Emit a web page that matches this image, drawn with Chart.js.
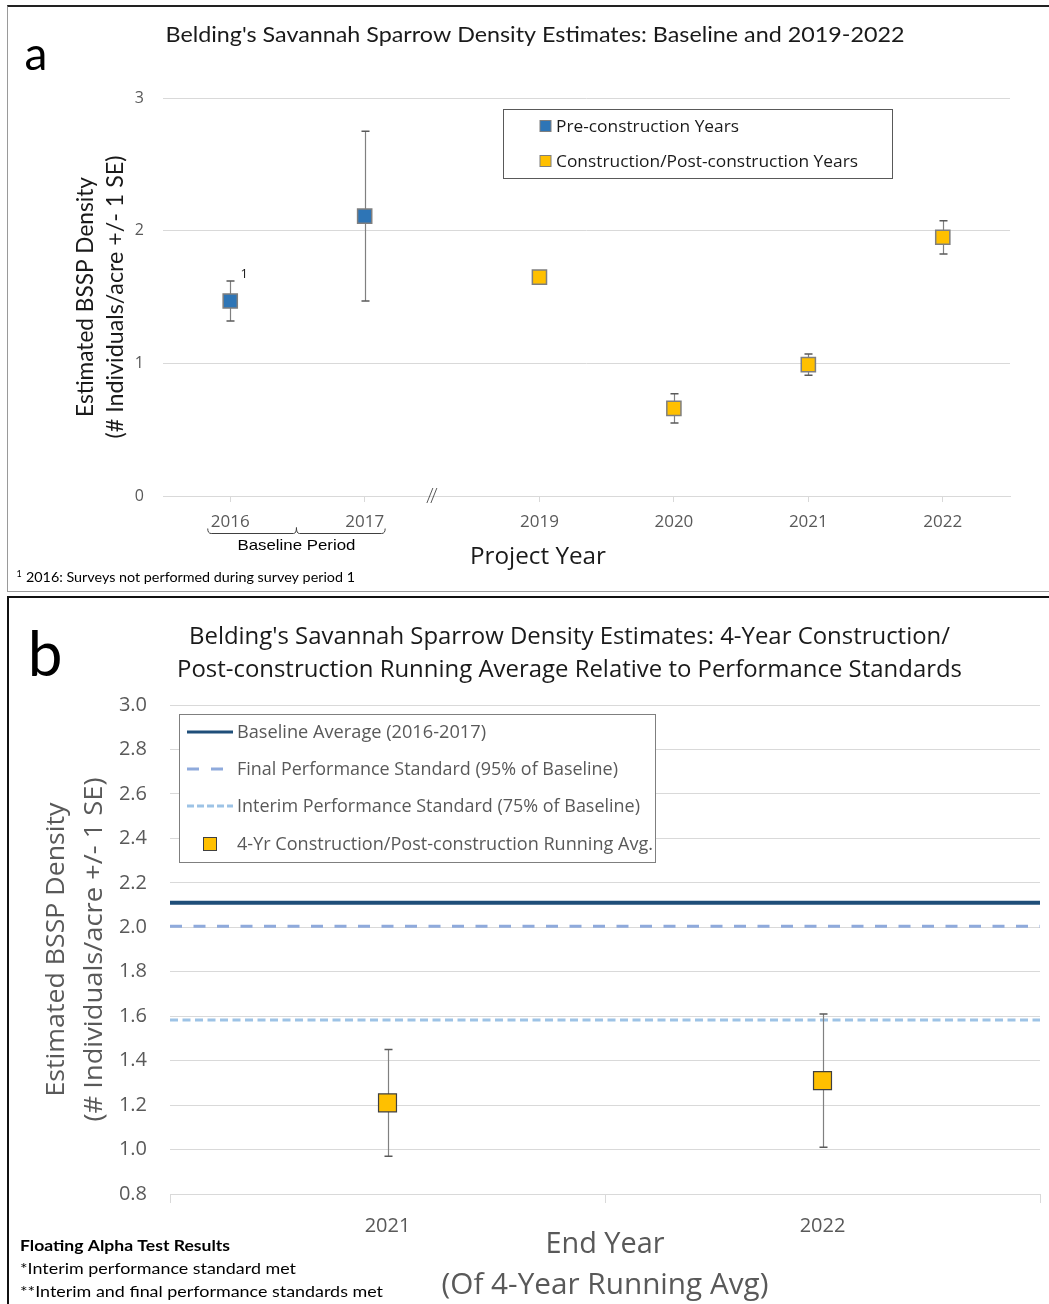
<!DOCTYPE html>
<html>
<head>
<meta charset="utf-8">
<title>Belding's Savannah Sparrow Density Estimates</title>
<script src="https://cdn.jsdelivr.net/npm/chart.js@4.4.1/dist/chart.umd.min.js"></script>
<style>
  html, body { margin: 0; padding: 0; background: #fff; }
  body { width: 1049px; height: 1304px; position: relative; overflow: hidden; }
  .frame { position: absolute; box-sizing: border-box; }
  #frameA { left: 7px; top: 5px; width: 1042px; height: 587px;
            border-top: 2px solid #222; border-left: 1px solid #9a9a9a; border-bottom: 1px solid #9a9a9a; }
  #frameB { left: 7px; top: 596px; width: 1042px; height: 708px;
            border-top: 2px solid #111; border-left: 2px solid #111; }
  canvas { position: absolute; left: 0; }
  #chartA { top: 0; }
  #chartB { top: 597px; }
</style>
</head>
<body>
<div class="frame" id="frameA"></div>
<div class="frame" id="frameB"></div>
<canvas id="chartA" width="1049" height="590"></canvas>
<canvas id="chartB" width="1049" height="707"></canvas>
<script>
// ---- Panel a: yearly density estimates (individuals/acre, +/- 1 SE) ----
const preYears = ['2016', '2017'];
const preDensity = [1.47, 2.11];
const preSE = [0.15, 0.64];

const postYears = ['2019', '2020', '2021', '2022'];
const postDensity = [1.65, 0.66, 0.99, 1.95];
const postSE = [0, 0.11, 0.08, 0.125];

const yearLabelsA = preYears.concat(postYears);
const yTicksA = [0, 1, 2, 3];

// ---- Panel b: 4-year construction/post-construction running average ----
const endYears = ['2021', '2022'];
const runningAvg = [1.21, 1.31];
const runningSE = [0.24, 0.30];
const baselineAvg = 2.11;
const finalStandard = 0.95 * baselineAvg;   // 95% of baseline
const interimStandard = 0.75 * baselineAvg; // 75% of baseline
const yTicksB = [0.8, 1.0, 1.2, 1.4, 1.6, 1.8, 2.0, 2.2, 2.4, 2.6, 2.8, 3.0];

// Layout constants for the broken x axis of panel a
const BREAK_GAP = 0.3;
const slotOf = i => i + (i >= preYears.length ? BREAK_GAP : 0);
const slotsA = yearLabelsA.map((_, i) => slotOf(i));

const BLUE = '#2E75B6', GOLD = '#FFC000', GRID = '#d9d9d9', AXIS_TXT = '#595959';
const SEGOE = '"Open Sans", "Noto Sans", sans-serif';
const CALIBRI = 'Lato, "Open Sans", sans-serif';

// Draws a string, optionally stretched to a given width and rotated.
function drawText(ctx, s, x, y, o = {}) {
  ctx.save();
  ctx.font = o.font;
  ctx.fillStyle = o.color || '#262626';
  ctx.textBaseline = o.baseline || 'middle';
  ctx.textAlign = 'left';
  const natural = ctx.measureText(s).width;
  const sx = o.width ? o.width / natural : 1;
  ctx.translate(x, y);
  if (o.rotate) ctx.rotate(o.rotate);
  const w = natural * sx;
  const dx = o.align === 'left' ? 0 : o.align === 'right' ? -w : -w / 2;
  ctx.translate(dx, 0);
  ctx.scale(sx, 1);
  ctx.fillText(s, 0, 0);
  ctx.restore();
}

// Keeps a scale's box at a fixed size with no extra edge padding
const fixBox = (prop, size) => s => { s[prop] = size; s.paddingLeft = 0; s.paddingRight = 0; };

// Vertical +/- SE whiskers for every point that carries an errorBars array
const errorBarsPlugin = {
  id: 'errorBars',
  beforeDatasetsDraw(chart, args, opts) {
    const { ctx } = chart;
    const yScale = chart.scales.y;
    chart.data.datasets.forEach((ds, di) => {
      if (!ds.errorBars) return;
      const meta = chart.getDatasetMeta(di);
      meta.data.forEach((pt, i) => {
        const v = typeof ds.data[i] === 'object' ? ds.data[i].y : ds.data[i];
        const se = ds.errorBars[i];
        if (!se) return;
        const yTop = yScale.getPixelForValue(v + se);
        const yBot = yScale.getPixelForValue(v - se);
        const x = Math.round(pt.x) + 0.5;
        ctx.save();
        ctx.strokeStyle = '#808080';
        ctx.lineWidth = 1.2;
        ctx.beginPath();
        ctx.moveTo(x, yTop); ctx.lineTo(x, yBot);
        ctx.stroke();
        ctx.strokeStyle = '#595959';
        ctx.lineWidth = 1.5;
        const c = opts.cap || 4;
        ctx.beginPath();
        ctx.moveTo(x - c, yTop); ctx.lineTo(x + c, yTop);
        ctx.moveTo(x - c, yBot); ctx.lineTo(x + c, yBot);
        ctx.stroke();
        ctx.restore();
      });
    });
  }
};

// ---- Panel a decorations: title, axis titles, break mark, bracket, legend, notes ----
const panelAExtras = {
  id: 'panelAExtras',
  afterDraw(chart) {
    const { ctx, scales: { x, y } } = chart;

    drawText(ctx, "Belding's Savannah Sparrow Density Estimates: Baseline and 2019-2022", 535, 35,
      { font: '22px ' + CALIBRI, color: '#1a1a1a', width: 739 });
    drawText(ctx, 'a', 36, 70, { font: '46px ' + CALIBRI, color: '#000', baseline: 'alphabetic' });

    const cy = (y.top + y.bottom) / 2;
    drawText(ctx, 'Estimated BSSP Density', 86, cy,
      { font: '23px ' + CALIBRI, color: '#1a1a1a', width: 240, rotate: -Math.PI / 2 });
    drawText(ctx, '(# Individuals/acre +/- 1 SE)', 116, cy,
      { font: '23px ' + CALIBRI, color: '#1a1a1a', width: 283, rotate: -Math.PI / 2 });

    // axis break "//"
    const bx = x.getPixelForValue(preYears.length - 0.5);
    const by = y.getPixelForValue(0);
    ctx.save();
    ctx.strokeStyle = '#595959';
    ctx.lineWidth = 1;
    ctx.beginPath();
    ctx.moveTo(bx - 5, by + 7); ctx.lineTo(bx + 1, by - 8);
    ctx.moveTo(bx - 1, by + 7); ctx.lineTo(bx + 5, by - 8);
    ctx.stroke();
    ctx.restore();

    // bracket under the baseline years
    const x0 = x.getPixelForValue(slotsA[0]) - 23;
    const x1 = x.getPixelForValue(slotsA[preYears.length - 1]) + 21;
    const xm = (x0 + x1) / 2;
    const yb = by + 37.5;
    ctx.save();
    ctx.strokeStyle = '#404040';
    ctx.lineWidth = 1;
    ctx.beginPath();
    ctx.moveTo(x0 + 0.5, yb - 5); ctx.quadraticCurveTo(x0 + 0.5, yb, x0 + 4, yb);
    ctx.lineTo(xm - 3, yb); ctx.quadraticCurveTo(xm, yb, xm, yb - 6);
    ctx.quadraticCurveTo(xm, yb, xm + 3, yb);
    ctx.lineTo(x1 - 4, yb); ctx.quadraticCurveTo(x1 - 0.5, yb, x1 - 0.5, yb - 5);
    ctx.stroke();
    ctx.restore();
    drawText(ctx, 'Baseline Period', xm, 546,
      { font: '15px "Liberation Sans", Arial, sans-serif', color: '#000', width: 118 });

    drawText(ctx, 'Project Year', 538, 557, { font: '24px ' + SEGOE, color: '#1a1a1a', width: 136 });

    // note marker beside the 2016 estimate
    drawText(ctx, '1', x.getPixelForValue(slotsA[0]) + 14, y.getPixelForValue(preDensity[0]) - 27,
      { font: '13px ' + SEGOE, color: '#1a1a1a' });

    // footnote
    drawText(ctx, '1', 19, 574, { font: '9px ' + CALIBRI, color: '#000' });
    drawText(ctx, '2016: Surveys not performed during survey period 1', 26, 578,
      { font: '13px ' + CALIBRI, color: '#000', align: 'left', width: 329 });

    // legend
    ctx.save();
    ctx.strokeStyle = '#595959';
    ctx.lineWidth = 1;
    ctx.strokeRect(503.5, 109.5, 389, 69);
    [[BLUE, 126, 'Pre-construction Years', 183], [GOLD, 161, 'Construction/Post-construction Years', 302]]
      .forEach(([c, ly, label, w]) => {
        ctx.fillStyle = c;
        ctx.fillRect(540, ly - 5.5, 11, 11);
        ctx.strokeStyle = '#7f7f7f';
        ctx.strokeRect(540, ly - 5.5, 11, 11);
        drawText(ctx, label, 556, ly + 1, { font: '16px ' + SEGOE, color: '#1a1a1a', align: 'left', width: w });
      });
    ctx.restore();
  }
};

new Chart(document.getElementById('chartA'), {
  type: 'scatter',
  data: {
    datasets: [
      {
        label: 'Pre-construction Years',
        data: preDensity.map((v, i) => ({ x: slotsA[i], y: v })),
        errorBars: preSE,
        pointStyle: 'rect', pointRadius: 10, pointHoverRadius: 10,
        backgroundColor: BLUE, borderColor: '#7f7f7f', borderWidth: 1.5
      },
      {
        label: 'Construction/Post-construction Years',
        data: postDensity.map((v, i) => ({ x: slotsA[i + preYears.length], y: v })),
        errorBars: postSE,
        pointStyle: 'rect', pointRadius: 10, pointHoverRadius: 10,
        backgroundColor: GOLD, borderColor: '#7f7f7f', borderWidth: 1.5
      }
    ]
  },
  options: {
    responsive: false,
    animation: false,
    layout: { autoPadding: false, padding: { top: 98, right: 39, left: 0, bottom: 0 } },
    plugins: { legend: { display: false }, tooltip: { enabled: false }, errorBars: { cap: 4 } },
    scales: {
      x: {
        type: 'linear',
        min: -0.5,
        max: yearLabelsA.length - 0.5 + BREAK_GAP,
        afterBuildTicks: s => { s.ticks = slotsA.map(v => ({ value: v })); },
        afterFit: fixBox('height', 94),
        ticks: {
          autoSkip: false, maxRotation: 0, padding: 10,
          color: AXIS_TXT, font: { family: SEGOE, size: 17 },
          callback: (v, i) => yearLabelsA[i]
        },
        grid: { drawOnChartArea: false, tickLength: 6, color: GRID },
        border: { display: true, color: GRID }
      },
      y: {
        min: yTicksA[0],
        max: yTicksA[yTicksA.length - 1],
        afterBuildTicks: s => { s.ticks = yTicksA.map(v => ({ value: v })); },
        afterFit: s => { s.width = 163; },
        ticks: { padding: 19, color: AXIS_TXT, font: { family: SEGOE, size: 16 } },
        grid: { color: GRID, drawTicks: false },
        border: { display: false }
      }
    }
  },
  plugins: [errorBarsPlugin, panelAExtras]
});

// ---- Panel b: standards lines (drawn under the points) ----
const standards = [
  { value: baselineAvg, color: '#1F4E79', width: 4, dash: [], label: 'Baseline Average (2016-2017)', textW: 249 },
  { value: finalStandard, color: '#8FAADC', width: 3, dash: [12, 11.5], label: 'Final Performance Standard (95% of Baseline)', textW: 381 },
  { value: interimStandard, color: '#9DC3E6', width: 3, dash: [8, 4.5], label: 'Interim Performance Standard (75% of Baseline)', textW: 403 }
];

const standardLines = {
  id: 'standardLines',
  beforeDatasetsDraw(chart) {
    const { ctx, chartArea, scales: { y } } = chart;
    standards.forEach(s => {
      const py = y.getPixelForValue(s.value);
      ctx.save();
      ctx.strokeStyle = s.color;
      ctx.lineWidth = s.width;
      ctx.setLineDash(s.dash);
      ctx.beginPath();
      ctx.moveTo(chartArea.left, py);
      ctx.lineTo(chartArea.right, py);
      ctx.stroke();
      ctx.restore();
    });
  }
};

const panelBExtras = {
  id: 'panelBExtras',
  afterDraw(chart) {
    const { ctx, scales: { y } } = chart;

    drawText(ctx, "Belding's Savannah Sparrow Density Estimates: 4-Year Construction/", 569.5, 40,
      { font: '24px ' + SEGOE, color: '#1a1a1a', width: 761 });
    drawText(ctx, 'Post-construction Running Average Relative to Performance Standards', 569.5, 73,
      { font: '24px ' + SEGOE, color: '#1a1a1a', width: 785 });
    drawText(ctx, 'b', 45, 79, { font: '62px ' + CALIBRI, color: '#000', baseline: 'alphabetic' });

    const cy = (y.top + y.bottom) / 2;
    drawText(ctx, 'Estimated BSSP Density', 57, cy,
      { font: '26px ' + SEGOE, color: AXIS_TXT, width: 294, rotate: -Math.PI / 2 });
    drawText(ctx, '(# Individuals/acre +/- 1 SE)', 95, cy,
      { font: '26px ' + SEGOE, color: AXIS_TXT, width: 344, rotate: -Math.PI / 2 });

    drawText(ctx, 'End Year', 605, 648, { font: '29px ' + SEGOE, color: AXIS_TXT, width: 119 });
    drawText(ctx, '(Of 4-Year Running Avg)', 605, 689, { font: '29px ' + SEGOE, color: AXIS_TXT, width: 327 });

    drawText(ctx, 'Floating Alpha Test Results', 20, 649,
      { font: 'bold 16px ' + CALIBRI, color: '#000', align: 'left', width: 210 });
    drawText(ctx, '*Interim performance standard met', 20, 672,
      { font: '16px ' + CALIBRI, color: '#000', align: 'left', width: 276 });
    drawText(ctx, '**Interim and final performance standards met', 20, 695,
      { font: '16px ' + CALIBRI, color: '#000', align: 'left', width: 363 });

    // legend
    ctx.save();
    ctx.fillStyle = '#fff';
    ctx.fillRect(180, 118, 475, 147);
    ctx.strokeStyle = '#7f7f7f';
    ctx.lineWidth = 1;
    ctx.strokeRect(179.5, 117.5, 476, 148);
    const rows = [135, 172, 209];
    standards.forEach((s, i) => {
      ctx.save();
      ctx.strokeStyle = s.color;
      ctx.lineWidth = 3;
      ctx.setLineDash(i === 1 ? [12, 12] : i === 2 ? [7, 3] : []);
      ctx.beginPath();
      ctx.moveTo(187, rows[i]); ctx.lineTo(233, rows[i]);
      ctx.stroke();
      ctx.restore();
      drawText(ctx, s.label, 237, rows[i] + 1, { font: '18px ' + SEGOE, color: AXIS_TXT, align: 'left', width: s.textW });
    });
    ctx.fillStyle = GOLD;
    ctx.fillRect(203.5, 240.5, 13, 13);
    ctx.strokeStyle = '#404040';
    ctx.strokeRect(203.5, 240.5, 13, 13);
    drawText(ctx, '4-Yr Construction/Post-construction Running Avg.', 237, 248,
      { font: '18px ' + SEGOE, color: AXIS_TXT, align: 'left', width: 416 });
    ctx.restore();
  }
};

new Chart(document.getElementById('chartB'), {
  type: 'line',
  data: {
    labels: endYears,
    datasets: [{
      label: '4-Yr Construction/Post-construction Running Avg.',
      data: runningAvg,
      errorBars: runningSE,
      showLine: false,
      pointStyle: 'rect', pointRadius: 12.7, pointHoverRadius: 12.7,
      backgroundColor: GOLD, borderColor: '#404040', borderWidth: 1.2
    }]
  },
  options: {
    responsive: false,
    animation: false,
    layout: { autoPadding: false, padding: { top: 108, right: 9, left: 0, bottom: 0 } },
    plugins: { legend: { display: false }, tooltip: { enabled: false }, errorBars: { cap: 4 } },
    scales: {
      x: {
        type: 'category',
        offset: true,
        afterFit: fixBox('height', 110),
        ticks: { padding: 11, maxRotation: 0, color: AXIS_TXT, font: { family: SEGOE, size: 20 } },
        grid: { offset: true, drawOnChartArea: false, tickLength: 9, color: GRID },
        border: { display: true, color: GRID }
      },
      y: {
        min: yTicksB[0],
        max: yTicksB[yTicksB.length - 1],
        afterBuildTicks: s => { s.ticks = yTicksB.map(v => ({ value: v })); },
        afterFit: s => { s.width = 170; },
        ticks: {
          padding: 23, color: AXIS_TXT, font: { family: SEGOE, size: 20 },
          callback: v => Number(v).toFixed(1)
        },
        grid: { color: GRID, drawTicks: false },
        border: { display: false }
      }
    }
  },
  plugins: [standardLines, errorBarsPlugin, panelBExtras]
});
</script>
</body>
</html>
